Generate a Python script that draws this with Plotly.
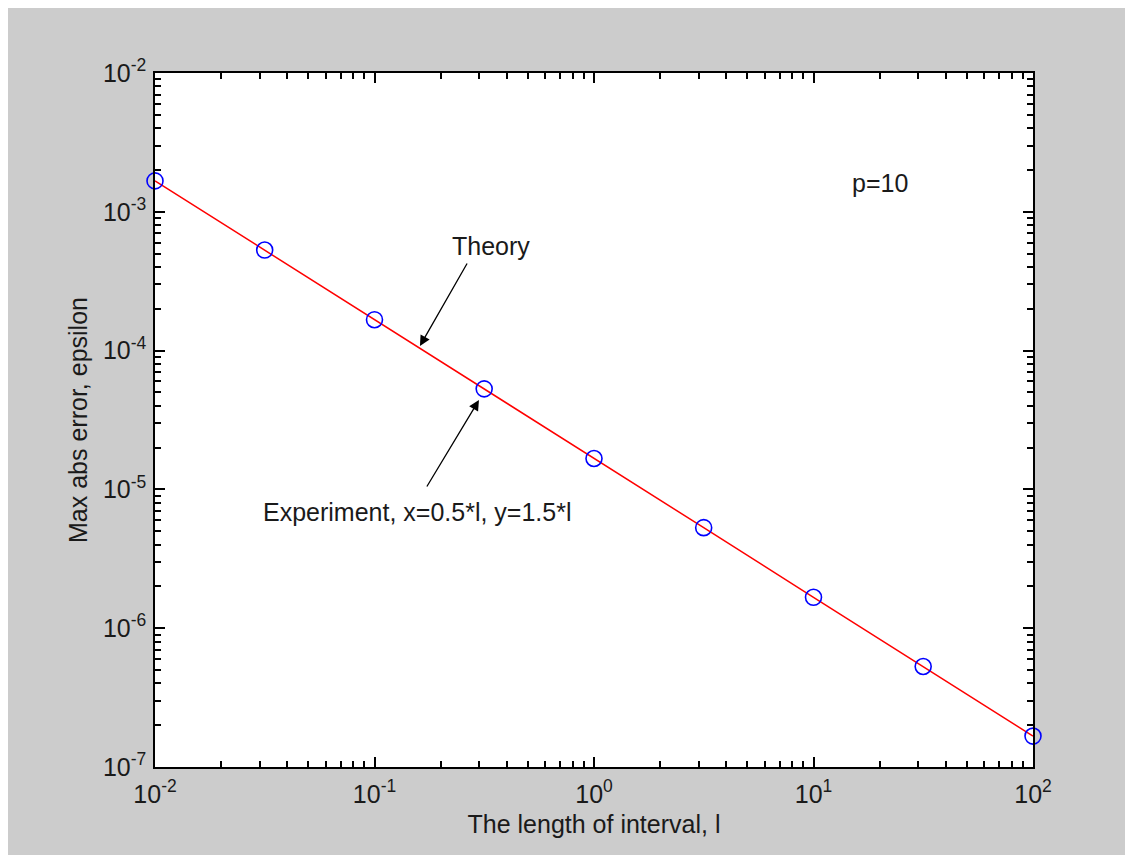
import plotly.graph_objects as go

# Data
interval_len = [0.01, 0.0316, 0.1, 0.316, 1.0, 3.16, 10.0, 31.6, 100.0]
max_err_experiment = [1.67e-3, 5.3e-4, 1.67e-4, 5.3e-5, 1.67e-5, 5.3e-6, 1.67e-6, 5.3e-7, 1.67e-7]
max_err_theory = [1.67e-3, 5.3e-4, 1.67e-4, 5.3e-5, 1.67e-5, 5.3e-6, 1.67e-6, 5.3e-7, 1.67e-7]

x_tick_vals = [1e-2, 1e-1, 1e0, 1e1, 1e2]
x_tick_text = ["10<sup>-2</sup>", "10<sup>-1</sup>", "10<sup>0</sup>", "10<sup>1</sup>", "10<sup>2</sup>"]
y_tick_vals = [1e-7, 1e-6, 1e-5, 1e-4, 1e-3, 1e-2]
y_tick_text = ["10<sup>-7</sup>", "10<sup>-6</sup>", "10<sup>-5</sup>", "10<sup>-4</sup>", "10<sup>-3</sup>", "10<sup>-2</sup>"]

x_minor = [m * 10.0 ** e for e in range(-2, 2) for m in range(2, 10)]
y_minor = [m * 10.0 ** e for e in range(-7, -2) for m in range(2, 10)]

FONT = "Liberation Sans, Arial"
FS = 25
FS_TITLE = 25
TXT = "#1a1a1a"

fig = go.Figure()
fig.add_trace(go.Scatter(
    x=interval_len, y=max_err_theory, mode="lines",
    line=dict(color="#ff0000", width=1.5), showlegend=False))
fig.add_trace(go.Scatter(
    x=interval_len, y=max_err_experiment, mode="markers",
    marker=dict(symbol="circle-open", size=16, color="#0000ff", line=dict(width=1.6)),
    showlegend=False, cliponaxis=False))

axis_common = dict(
    type="log", tickmode="array", showgrid=False, zeroline=False,
    showline=True, linecolor="black", linewidth=1.5, mirror="ticks",
    ticks="inside", ticklen=10, tickwidth=1.5, tickcolor="black",
    tickfont=dict(family=FONT, size=FS, color=TXT),
)

fig.update_xaxes(**axis_common, range=[-2, 2], tickvals=x_tick_vals, ticktext=x_tick_text,
                 minor=dict(tickmode="array", tickvals=x_minor, ticks="inside", ticklen=6,
                            tickwidth=1.5, tickcolor="black", showgrid=False),
                 title=dict(text="The length of interval, l", font=dict(family=FONT, size=FS_TITLE, color=TXT), standoff=9),
                 ticklabelstandoff=4)
fig.update_yaxes(**axis_common, range=[-7, -2], tickvals=y_tick_vals, ticktext=y_tick_text,
                 minor=dict(tickmode="array", tickvals=y_minor, ticks="inside", ticklen=6,
                            tickwidth=1.5, tickcolor="black", showgrid=False),
                 title=dict(text="Max abs error, epsilon", font=dict(family=FONT, size=FS_TITLE, color=TXT), standoff=8),
                 ticklabelstandoff=2)

anno_font = dict(family=FONT, size=FS, color=TXT)
fig.add_annotation(x=-0.793, y=-3.967, xref="x", yref="y", text="", showarrow=True,
                   ax=48, ay=-84, arrowhead=2, arrowsize=1.6, arrowwidth=1.3, arrowcolor="black")
fig.add_annotation(x=-0.469, y=-3.246, xref="x", yref="y", text="Theory", showarrow=False, font=anno_font)
fig.add_annotation(x=-0.524, y=-4.356, xref="x", yref="y", text="", showarrow=True,
                   ax=-53, ay=88, arrowhead=2, arrowsize=1.6, arrowwidth=1.3, arrowcolor="black")
fig.add_annotation(x=-0.802, y=-5.163, xref="x", yref="y", text="Experiment, x=0.5*l, y=1.5*l",
                   showarrow=False, font=anno_font)
fig.add_annotation(x=1.303, y=-2.793, xref="x", yref="y", text="p=10", showarrow=False, font=anno_font)

fig.update_layout(
    width=1125, height=847,
    margin=dict(l=147, r=100, t=65, b=88, pad=0),
    paper_bgcolor="#cccccc", plot_bgcolor="white",
    font=dict(family=FONT, size=FS, color=TXT),
)

fig.write_html("out.html")
